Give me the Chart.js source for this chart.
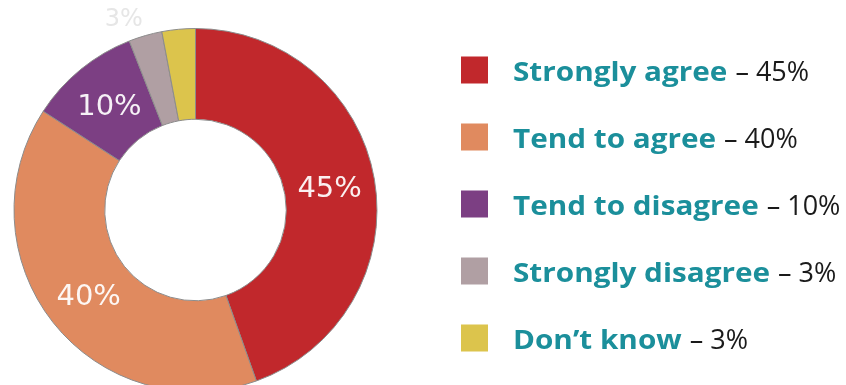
<!DOCTYPE html>
<html>
<head>
<meta charset="utf-8">
<script src="https://cdn.jsdelivr.net/npm/chart.js@4.4.0/dist/chart.umd.min.js"></script>
<style>
  html, body { margin: 0; padding: 0; background: #fff; overflow: hidden; }
  #wrap { position: relative; width: 846px; height: 400px; }
</style>
</head>
<body>
<div id="wrap"><canvas id="surveyChart"></canvas></div>
<script>
const categories = ['Strongly agree', 'Tend to agree', 'Tend to disagree', 'Strongly disagree', 'Don\u2019t know'];
const shares = [45, 40, 10, 3, 3];
const sliceColors = ['#c1282c', '#e08a5f', '#7c3f83', '#b09fa3', '#dcc44c'];

// percentage labels on the ring; the small grey slice gets a pale label outside
const sliceLabels = {
  id: 'sliceLabels',
  afterDatasetsDraw(chart) {
    const ctx = chart.ctx;
    const meta = chart.getDatasetMeta(0);
    ctx.save();
    ctx.textAlign = 'center';
    ctx.textBaseline = 'middle';
    meta.data.forEach((arc, i) => {
      const v = shares[i];
      if (v >= 10) {
        const p = arc.tooltipPosition();
        ctx.font = '29px "DejaVu Sans", sans-serif';
        ctx.fillStyle = 'rgba(255,255,255,0.93)';
        ctx.fillText(v + '%', p.x, p.y + 3);
      } else if (i === 3) {
        const mid = (arc.startAngle + arc.endAngle) / 2 - 0.08;
        const r = arc.outerRadius + 22;
        ctx.font = '24px "DejaVu Sans", sans-serif';
        ctx.fillStyle = '#e6e6e6';
        ctx.fillText(v + '%', arc.x + Math.cos(mid) * r, arc.y + Math.sin(mid) * r);
      }
    });
    ctx.restore();
  }
};

// legend on the right: colour square, bold teal name, plain value
const sideLegend = {
  id: 'sideLegend',
  afterDraw(chart) {
    const ctx = chart.ctx;
    const top = 70, step = 67, stretch = 1.1;
    ctx.save();
    ctx.textBaseline = 'alphabetic';
    categories.forEach((name, i) => {
      const cy = top + i * step;
      ctx.fillStyle = sliceColors[i];
      ctx.fillRect(461, cy - 13.5, 27, 27);
      ctx.save();
      ctx.translate(513, cy + 11);
      ctx.scale(stretch, 1);
      ctx.font = 'bold 27px "Open Sans", sans-serif';
      ctx.fillStyle = '#1b8f9b';
      ctx.fillText(name, 0, 0);
      const w = ctx.measureText(name).width * stretch;
      ctx.restore();
      ctx.font = '27px "Open Sans", sans-serif';
      ctx.fillStyle = '#1a1a1a';
      ctx.fillText(' \u2013 ' + shares[i] + '%', 513 + w + 1, cy + 11);
    });
    ctx.restore();
  }
};

new Chart(document.getElementById('surveyChart'), {
  type: 'doughnut',
  data: {
    labels: categories,
    datasets: [{
      data: shares,
      backgroundColor: sliceColors,
      borderColor: '#8c8c8c',
      borderWidth: 1
    }]
  },
  options: {
    responsive: true,
    maintainAspectRatio: false,
    animation: false,
    cutout: '50%',
    layout: { padding: { left: 13, right: 468, top: 28, bottom: 8 } },
    plugins: {
      legend: { display: false },
      tooltip: { enabled: false }
    }
  },
  plugins: [sliceLabels, sideLegend]
});
</script>
</body>
</html>
